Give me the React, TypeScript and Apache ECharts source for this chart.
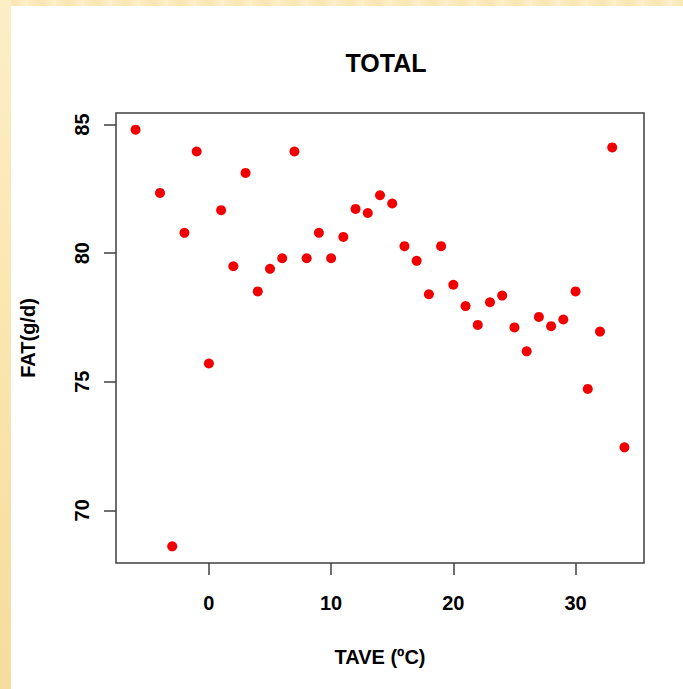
import React, { useEffect, useRef } from "react";
import * as echarts from "echarts";

// Mean temperature (ºC) and daily fat intake (g/d)
const tave: number[] = [
  -6, -4, -3, -2, -1, 0, 1, 2, 3, 4, 5, 6, 7, 8, 9, 10, 11, 12, 13, 14, 15, 16, 17,
  18, 19, 20, 21, 22, 23, 24, 25, 26, 27, 28, 29, 30, 31, 32, 33, 34,
];
const fat: number[] = [
  84.8, 82.34, 68.6, 80.79, 83.95, 75.71, 81.67, 79.49, 83.12, 78.51, 79.39, 79.8,
  83.95, 79.8, 80.79, 79.8, 80.63, 81.72, 81.56, 82.25, 81.93, 80.27, 79.7, 78.4,
  80.27, 78.77, 77.94, 77.21, 78.09, 78.35, 77.11, 76.18, 77.52, 77.16, 77.42,
  78.51, 74.72, 76.95, 84.11, 72.45,
];
const xTicks: number[] = [0, 10, 20, 30];
const yTicks: number[] = [70, 75, 80, 85];

const FONT = "'Liberation Sans', Arial, sans-serif";

export default function App() {
  const ref = useRef<HTMLDivElement>(null);

  useEffect(() => {
    if (!ref.current) return;
    const chart = echarts.init(ref.current, undefined, { renderer: "svg" });

    // axis ranges padded by 4% on each side of the data range
    const xMinD = Math.min(...tave);
    const xMaxD = Math.max(...tave);
    const yMinD = Math.min(...fat);
    const yMaxD = Math.max(...fat);
    const xPad = (xMaxD - xMinD) * 0.04;
    const yPad = (yMaxD - yMinD) * 0.04;

    const points = tave.map((t, i) => [t, fat[i]]);

    chart.setOption({
      animation: false,
      backgroundColor: "transparent",
      title: {
        text: "TOTAL",
        left: 381,
        top: 45,
        textAlign: "center",
        textStyle: {
          fontFamily: FONT,
          fontWeight: "bold",
          fontSize: 25,
          color: "#000",
        },
      },
      grid: {
        left: 116,
        right: 39,
        top: 113,
        bottom: 126,
        show: true,
        borderColor: "#404040",
        borderWidth: 1.5,
        backgroundColor: "transparent",
      },
      xAxis: {
        type: "value",
        min: xMinD - xPad,
        max: xMaxD + xPad,
        name: "TAVE (ºC)",
        nameLocation: "middle",
        nameGap: 84,
        nameTextStyle: {
          fontFamily: FONT,
          fontWeight: "bold",
          fontSize: 20,
          color: "#000",
        },
        axisLine: { show: false, onZero: false },
        splitLine: { show: false },
        axisTick: {
          show: true,
          length: 12,
          customValues: xTicks,
          lineStyle: { color: "#404040", width: 1.5 },
        },
        axisLabel: {
          customValues: xTicks,
          margin: 30,
          fontFamily: FONT,
          fontWeight: "bold",
          fontSize: 20,
          color: "#000",
        },
      },
      yAxis: {
        type: "value",
        min: yMinD - yPad,
        max: yMaxD + yPad,
        name: "FAT(g/d)",
        nameLocation: "middle",
        nameRotate: 90,
        nameGap: 78,
        nameTextStyle: {
          fontFamily: FONT,
          fontWeight: "bold",
          fontSize: 20,
          color: "#000",
        },
        axisLine: { show: false, onZero: false },
        splitLine: { show: false },
        axisTick: {
          show: true,
          length: 12,
          customValues: yTicks,
          lineStyle: { color: "#404040", width: 1.5 },
        },
        axisLabel: {
          customValues: yTicks,
          rotate: 90,
          margin: 24,
          fontFamily: FONT,
          fontWeight: "bold",
          fontSize: 20,
          color: "#000",
        },
      },
      series: [
        {
          type: "scatter",
          data: points,
          symbol: "circle",
          symbolSize: 10,
          itemStyle: { color: "#f00000", opacity: 1 },
        },
      ],
    });

    return () => chart.dispose();
  }, []);

  return (
    <div
      style={{
        position: "fixed",
        left: 0,
        top: 0,
        width: 683,
        height: 689,
        background: "#ffffff",
        overflow: "hidden",
      }}
    >
      {/* cream frame strips along the top and left edges */}
      <div
        style={{
          position: "absolute",
          left: 0,
          top: 0,
          width: 683,
          height: 6,
          background:
            "repeating-linear-gradient(90deg, #fcecc2 0px, #fae6b3 14px, #fdf0cc 28px)",
        }}
      />
      <div
        style={{
          position: "absolute",
          left: 0,
          top: 0,
          width: 11,
          height: 689,
          background:
            "linear-gradient(180deg, #fdeec6 0%, #fae6b0 45%, #f6dc9c 100%)",
        }}
      />
      <div
        ref={ref}
        style={{ position: "absolute", left: 0, top: 0, width: 683, height: 689 }}
      />
    </div>
  );
}
